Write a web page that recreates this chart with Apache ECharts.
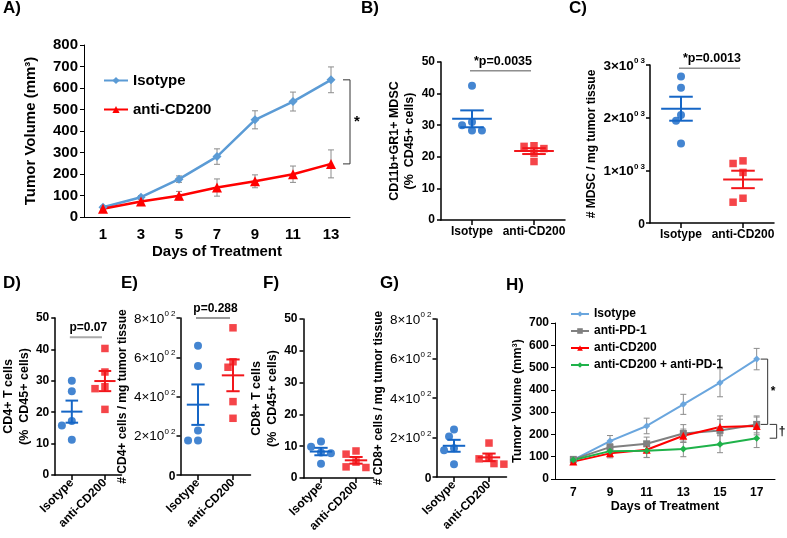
<!DOCTYPE html>
<html><head><meta charset="utf-8">
<script src="https://cdn.jsdelivr.net/npm/echarts@6/dist/echarts.min.js"></script>
<style>html,body{margin:0;padding:0;background:#fff}#c{width:787px;height:538px}</style>
</head><body><div id="c"></div>
<script>
// ---------- DATA ----------
const daysA = ['1','3','5','7','9','11','13'];
const isoA = [45, 92, 176, 281, 452, 537, 638];
const isoAErr = [6, 8, 15, 36, 42, 44, 60];
const cdA = [38, 72, 99, 137, 166, 199, 247];
const cdAErr = [5, 10, 20, 40, 30, 38, 65];

const groups = ['Isotype', 'anti-CD200'];
const bIso = [42.5, 30, 31, 28.3, 28.3];
const bCd = [23.3, 22.6, 23.5, 21.1, 18.5];
const cIso = [2780, 2570, 2050, 1940, 1510];
const cCd = [1180, 1130, 960, 470, 395];
const dIso = [30, 26.7, 17.2, 15.8, 11.2];
const dCd = [40.3, 32.8, 28.1, 27.5, 20.9];
const eIso = [658, 555, 227, 176, 176];
const eCd = [750, 577, 549, 374, 289];
const fIso = [9.8, 11.5, 8, 7.8, 4.5];
const fCd = [8.5, 7.5, 5, 3.5, 3.3];
const gIso = [240, 205, 145, 135, 65];
const gCd = [172, 100, 92, 68, 65];

const daysH = ['7','9','11','13','15','17'];
const hIso = [86, 170, 238, 335, 432, 538];
const hIsoErr = [8, 25, 35, 45, 63, 48];
const hPd1 = [88, 143, 158, 204, 218, 245];
const hPd1Err = [8, 15, 30, 40, 65, 38];
const hCd = [78, 115, 131, 194, 233, 238];
const hCdErr = [6, 20, 35, 30, 35, 40];
const hCombo = [85, 125, 127, 135, 156, 183];
const hComboErr = [6, 15, 30, 35, 38, 42];

const pTexts = ['*p=0.0035', '*p=0.0013', 'p=0.07', 'p=0.288'];

// ---------- STYLE ----------
const FONT = '"Liberation Sans", Arial, sans-serif';
const BLUE = '#1566c6', RED = '#f2161b', LBLUE = '#5b9bd5', HBLUE = '#6aa6de', GRAY = '#808080', GREEN = '#1fb24a';

const grids = [
  {left:84, top:45, width:266, height:172},     // A
  {left:441, top:62, width:124, height:158},    // B
  {left:650, top:65, width:124, height:158},    // C
  {left:51.5, top:318, width:70, height:157},   // D
  {left:180.5, top:318, width:70, height:157},  // E
  {left:303.5, top:319, width:70, height:159},  // F
  {left:436.5, top:319, width:70, height:158},  // G
  {left:555, top:323, width:220, height:156}    // H
];
const yRanges = [[800,100],[50,10],[3000,1000],[50,10],[800,200],[50,10],[800,200],[700,100]];

function ln(x1,y1,x2,y2,style){ return {type:'line', shape:{x1,y1,x2,y2}, style}; }

function swarm(vals, pxPerUnit, D){
  const idx = vals.map((v,i)=>i).sort((a,b)=>vals[b]-vals[a]);
  const placed = []; const off = vals.map(()=>0);
  const step = D*0.62;
  idx.forEach(i=>{
    const y = vals[i]*pxPerUnit;
    for(let k=0;k<30;k++){
      const cand = k===0 ? 0 : (k%2 ? -1 : 1)*Math.ceil(k/2)*step;
      if(placed.every(p=>(p.x-cand)**2+(p.y-y)**2 >= D*D*0.85)){ off[i]=cand; placed.push({x:cand,y}); break; }
    }
  });
  return off;
}
function meanSem(v){
  const n=v.length, m=v.reduce((a,b)=>a+b,0)/n;
  const sd=Math.sqrt(v.reduce((a,b)=>a+(b-m)**2,0)/(n-1));
  return [m, sd/Math.sqrt(n)];
}

const series = [];
function dots(gi, gIdx, vals, color, symbol){
  const g = grids[gi];
  const off = swarm(vals, g.height/yRanges[gi][0], 8);
  series.push({type:'scatter', xAxisIndex:gi, yAxisIndex:gi, symbol, symbolSize: symbol==='rect'?7.5:8,
    itemStyle:{color}, z:3, silent:true,
    data: vals.map((v,i)=>({value:[gIdx, v], symbolOffset:[off[i],0]}))});
}
function meanLines(gi, sets, colors){
  series.push({type:'custom', xAxisIndex:gi, yAxisIndex:gi, z:4, silent:true,
    data: sets.map((v,i)=>{const r=meanSem(v); return [i, r[0], r[1]];}),
    renderItem:(p,api)=>{
      const i=api.value(0), m=api.value(1), s=api.value(2);
      const bw=api.size([1,0])[0];
      const c=api.coord([i,m]), t=api.coord([i,m+s]), b=api.coord([i,m-s]);
      const st={stroke:colors[i], lineWidth:2};
      const hw=bw*0.32, sw=bw*0.19;
      return {type:'group', children:[
        ln(c[0]-hw,c[1],c[0]+hw,c[1],st), ln(t[0]-sw,t[1],t[0]+sw,t[1],st),
        ln(b[0]-sw,b[1],b[0]+sw,b[1],st), ln(t[0],t[1],b[0],b[1],st)]};
    }});
}
function sig(gi, text, yv, lc, lw, fs){
  series.push({type:'custom', xAxisIndex:gi, yAxisIndex:gi, clip:false, silent:true, z:5,
    data:[[0, 0, yv]],
    renderItem:(p,api)=>{
      const a=api.coord([0,api.value(2)]), b=api.coord([1,api.value(2)]);
      return {type:'group', children:[
        ln(a[0]-2,a[1],b[0]-3,b[1],{stroke:lc,lineWidth:lw}),
        {type:'text', style:{text, x:(a[0]+b[0])/2, y:a[1]-3, align:'center', verticalAlign:'bottom',
          font:'bold '+fs+'px '+FONT, fill:'#000'}}]};
    }});
}
function errBars(gi, vals, errs, w){
  series.push({type:'custom', xAxisIndex:gi, yAxisIndex:gi, z:1, silent:true,
    data: vals.map((v,i)=>[i, v, errs[i]]),
    renderItem:(p,api)=>{
      const x=api.value(0), y=api.value(1), e=api.value(2);
      const t=api.coord([x,y+e]), b=api.coord([x,y-e]);
      const st={stroke:'#8c8c8c', lineWidth:1};
      return {type:'group', children:[ln(t[0],t[1],b[0],b[1],st), ln(t[0]-w,t[1],t[0]+w,t[1],st), ln(b[0]-w,b[1],b[0]+w,b[1],st)]};
    }});
}
function bracket(gi, x, top, bot, dx, tick, mark, fs, tx){
  series.push({type:'custom', xAxisIndex:gi, yAxisIndex:gi, z:5, clip:false, silent:true,
    data:[[x, top, bot]],
    renderItem:(p,api)=>{
      const t=api.coord([api.value(0), api.value(1)]), b=api.coord([api.value(0), api.value(2)]);
      const X=t[0]+dx; const st={stroke:'#333', lineWidth:1};
      return {type:'group', children:[
        ln(X-tick,t[1],X,t[1],st), ln(X,t[1],X,b[1],st), ln(X-tick,b[1],X,b[1],st),
        {type:'text', style:{text:mark, x:X+tx, y:(t[1]+b[1])/2, align:'left', verticalAlign:'middle', font:'bold '+fs+'px '+FONT, fill:'#000'}}]};
    }});
}

// ---------- AXES ----------
const xAxes = [], yAxes = [];
function sup(n, e){ return n===0 ? '{z|0}' : '{n|'+n+'×10}{s|0 '+e+'}'; }
const richLab = (w)=>({
  z:{fontSize:12, fontWeight:'bold', fontFamily:FONT, color:'#000', lineHeight:16, verticalAlign:'bottom'},
  n:{fontSize:13.5, fontWeight:w, fontFamily:FONT, color:'#000', lineHeight:16, verticalAlign:'bottom'},
  s:{fontSize:8, fontWeight:w, fontFamily:FONT, color:'#000', lineHeight:16, verticalAlign:'top'}});
const yNames = [
  ['Tumor Volume (mm³)', 44, 15],
  ['CD11b+GR1+ MDSC\n(%  CD45+ cells)', 21, 12.5],
  ['# MDSC / mg tumor tissue', 50, 12],
  ['CD4+ T cells\n(%  CD45+ cells)', 19, 12.5],
  ['# CD4+ cells / mg tumor tissue', 48, 12],
  ['CD8+ T cells\n(%  CD45+ cells)', 23, 12.5],
  ['# CD8+ cells / mg tumor tissue', 43, 12],
  ['Tumor Volume (mm³)', 17, 12.5]
];
grids.forEach((g,gi)=>{
  const isLine = gi===0 || gi===7;
  const rot = (gi>=3 && gi<=6) ? 45 : 0;
  xAxes.push({type:'category', gridIndex:gi, data: gi===0?daysA:(gi===7?daysH:groups), boundaryGap:true,
    axisLine:{lineStyle:{color:'#000', width: isLine?1:1.5}},
    axisTick:{show:!isLine, alignWithLabel:true, length:5, lineStyle:{color:'#000', width:1.5}},
    axisLabel:{color:'#000', fontFamily:FONT, fontWeight:'bold', fontSize: gi===0?15:12, rotate:rot, margin: gi===0?10:(isLine?8:6), interval:0},
    name: isLine ? 'Days of Treatment' : '', nameLocation:'middle', nameGap: gi===0?27:21,
    nameTextStyle:{color:'#000', fontFamily:FONT, fontWeight:'bold', fontSize: gi===0?15:12.5}
  });
  const [mx, iv] = yRanges[gi];
  const yn = yNames[gi];
  const fmt = gi===2 ? (v)=>sup(v/1000,3) : (gi===4||gi===6) ? (v)=>sup(v/100,2) : null;
  yAxes.push({type:'value', gridIndex:gi, min:0, max:mx, interval:iv,
    axisLine:{show:true, lineStyle:{color:'#000', width: isLine?1:1.5}},
    axisTick:{show:true, length:4, lineStyle:{color:'#000', width: isLine?1:1.5}},
    splitLine:{show:false},
    axisLabel: fmt ? {formatter:fmt, rich:richLab(gi===2?'bold':'normal'), margin:5}
      : {color:'#000', fontFamily:FONT, fontWeight:'bold', fontSize: gi===0?15:12, margin: 6},
    name: yn[0], nameLocation:'middle', nameGap: yn[1],
    nameTextStyle:{color:'#000', fontFamily:FONT, fontWeight:'bold', fontSize: yn[2], lineHeight: yn[2]+3}
  });
});

// ---------- SERIES ----------
// A
errBars(0, isoA, isoAErr, 3);
errBars(0, cdA, cdAErr, 3);
series.push({type:'line', name:'Isotype', xAxisIndex:0, yAxisIndex:0, data:isoA, symbol:'diamond', symbolSize:9,
  lineStyle:{color:LBLUE, width:2.5}, itemStyle:{color:LBLUE}, z:2, silent:true});
series.push({type:'line', name:'anti-CD200', xAxisIndex:0, yAxisIndex:0, data:cdA, symbol:'triangle', symbolSize:10,
  lineStyle:{color:'#ff0000', width:2.5}, itemStyle:{color:'#ff0000'}, z:2, silent:true});
bracket(0, daysA.length-1, isoA[isoA.length-1], cdA[cdA.length-1], 19, 7, '*', 15, 4);

// Scatter panels
const sets = [[1,bIso,bCd],[2,cIso,cCd],[3,dIso,dCd],[4,eIso,eCd],[5,fIso,fCd],[6,gIso,gCd]];
sets.forEach(([gi,a,b])=>{
  meanLines(gi, [a,b], [BLUE, RED]);
  dots(gi, 0, a, BLUE, 'circle');
  dots(gi, 1, b, RED, 'rect');
});
sig(1, pTexts[0], 47.2, '#555', 1, 12.5);
sig(2, pTexts[1], 2940, '#555', 1, 12.5);
sig(3, pTexts[2], 43.9, '#aaa', 2, 12);
sig(4, pTexts[3], 800, '#333', 1, 12);

// H
errBars(7, hIso, hIsoErr, 3);
errBars(7, hPd1, hPd1Err, 3);
errBars(7, hCd, hCdErr, 3);
errBars(7, hCombo, hComboErr, 3);
const hSer = [['H:Isotype',hIso,HBLUE,'diamond',7],['H:anti-PD-1',hPd1,GRAY,'rect',7],['H:anti-CD200',hCd,'#ff0000','triangle',8],['H:anti-CD200 + anti-PD-1',hCombo,GREEN,'diamond',7]];
hSer.forEach(([n,d,c,s,sz])=>series.push({type:'line', name:n, xAxisIndex:7, yAxisIndex:7, data:d, symbol:s, symbolSize:sz,
  lineStyle:{color:c, width:2}, itemStyle:{color:c}, z:2, silent:true}));
const lastMid = Math.max(hPd1[hPd1.length-1], hCd[hCd.length-1]);
bracket(7, daysH.length-1, hIso[hIso.length-1], lastMid, 11, 7, '*', 12, 3);
bracket(7, daysH.length-1, lastMid, hCombo[hCombo.length-1], 20, 7, '†', 12, 2);

// ---------- PANEL LABELS ----------
const labels = [['A)',3,9],['B)',361,9],['C)',569,9],['D)',3,284],['E)',121,284],['F)',263,284],['G)',380,284],['H)',506,286]];

const option = {
  backgroundColor:'#fff', animation:false,
  grid: grids.map(g=>Object.assign({containLabel:false}, g)),
  xAxis: xAxes, yAxis: yAxes, series,
  legend:[
    {left:98, top:68, orient:'vertical', itemGap:14, itemWidth:24, itemHeight:9, selectedMode:false,
     data:['Isotype','anti-CD200'], textStyle:{color:'#000', fontFamily:FONT, fontWeight:'bold', fontSize:15}},
    {left:565, top:303, orient:'vertical', itemGap:5, itemWidth:18, itemHeight:7, selectedMode:false,
     data:hSer.map(h=>h[0]), formatter:(n)=>n.replace('H:',''),
     textStyle:{color:'#000', fontFamily:FONT, fontWeight:'bold', fontSize:12}}
  ],
  graphic: labels.map(([t,x,y])=>({type:'text', left:x, top:y-9, style:{text:t, font:'bold 17px '+FONT, fill:'#000'}}))
};
const chart = echarts.init(document.getElementById('c'));
chart.setOption(option);
</script></body></html>
